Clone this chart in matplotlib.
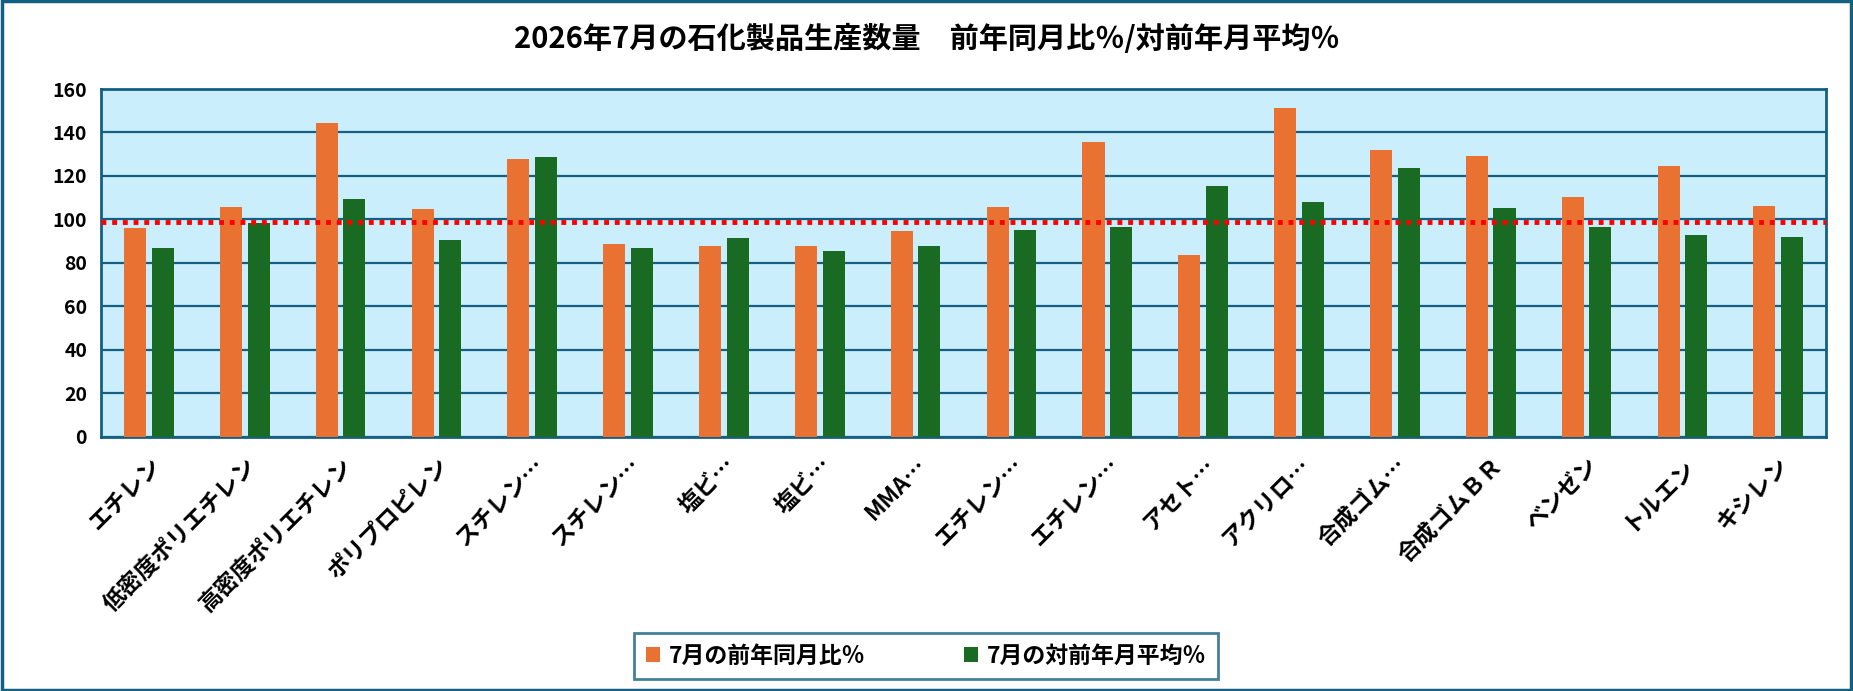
import numpy as np
import matplotlib.pyplot as plt
from matplotlib.patches import Rectangle

plt.rcParams['font.family'] = ['Noto Sans CJK JP', 'DejaVu Sans']

# データ
categories = ['エチレン', '低密度ポリエチレン', '高密度ポリエチレン', 'ポリプロピレン',
              'スチレン…', 'スチレン…', '塩ビ…', '塩ビ…', 'MMA…', 'エチレン…',
              'エチレン…', 'アセト…', 'アクリロ…', '合成ゴム…', '合成ゴムＢＲ',
              'ベンゼン', 'トルエン', 'キシレン']
yoy = [96.2, 105.8, 144.4, 104.8, 127.6, 88.9, 87.6, 88.0, 94.5, 105.8,
       135.8, 83.9, 151.2, 132.1, 129.4, 110.3, 124.8, 106.2]
vs_avg = [87.1, 98.5, 109.4, 90.8, 128.9, 87.1, 91.7, 85.3, 87.6, 95.3,
          96.7, 115.3, 108.0, 123.5, 105.3, 96.7, 93.0, 92.1]
ref_level = 99
yticks = [0, 20, 40, 60, 80, 100, 120, 140, 160]

teal = '#156082'
orange = '#E97132'
green = '#196B24'

fig = plt.figure(figsize=(18.53, 6.91), dpi=100)
ax = fig.add_axes([0.0545, 0.3676, 0.931, 0.5036])

x = np.arange(len(categories))
w = 0.23
ax.bar(x - 0.144, yoy, width=w, color=orange, label='7月の前年同月比％', zorder=3)
ax.bar(x + 0.144, vs_avg, width=w, color=green, label='7月の対前年月平均％', zorder=3)
ax.axhline(ref_level, color='red', linestyle=(0, (1, 1.2)), linewidth=3.5, zorder=4)

ax.set_facecolor('#CAEEFB')
ax.set_xlim(-0.5, len(categories) - 0.5)
ax.set_ylim(0, 160)
ax.set_yticks(yticks)
ax.yaxis.grid(True, color=teal, linewidth=1.6, zorder=1)
ax.set_axisbelow(True)
for s in ax.spines.values():
    s.set_color(teal)
    s.set_linewidth(2)
ax.tick_params(length=0, labelsize=14, pad=10)
for t in ax.get_yticklabels():
    t.set_fontweight('bold')
ax.set_xticks(x)
ax.set_xticklabels(categories, rotation=45, ha='right', rotation_mode='anchor',
                   fontsize=16.5, fontweight='bold')
ax.tick_params(axis='x', pad=12)

fig.text(0.5, 0.943, '2026年7月の石化製品生産数量　前年同月比％/対前年月平均％',
         ha='center', va='center', fontsize=21, fontweight='bold')

leg = fig.legend(loc='center', bbox_to_anchor=(0.4997, 0.0506), ncol=2,
                 fontsize=16.5, frameon=True, fancybox=False, handlelength=0.6,
                 handleheight=0.6, handletextpad=0.4, columnspacing=4.3,
                 borderpad=0.5, borderaxespad=0)
leg.get_frame().set_edgecolor(teal)
leg.get_frame().set_linewidth(2)
for t in leg.get_texts():
    t.set_fontweight('bold')

fig.patches.append(Rectangle((0.001, 0.002), 0.998, 0.996, transform=fig.transFigure,
                             fill=False, edgecolor=teal, linewidth=2.5))

fig.savefig('out.png', dpi=100)
